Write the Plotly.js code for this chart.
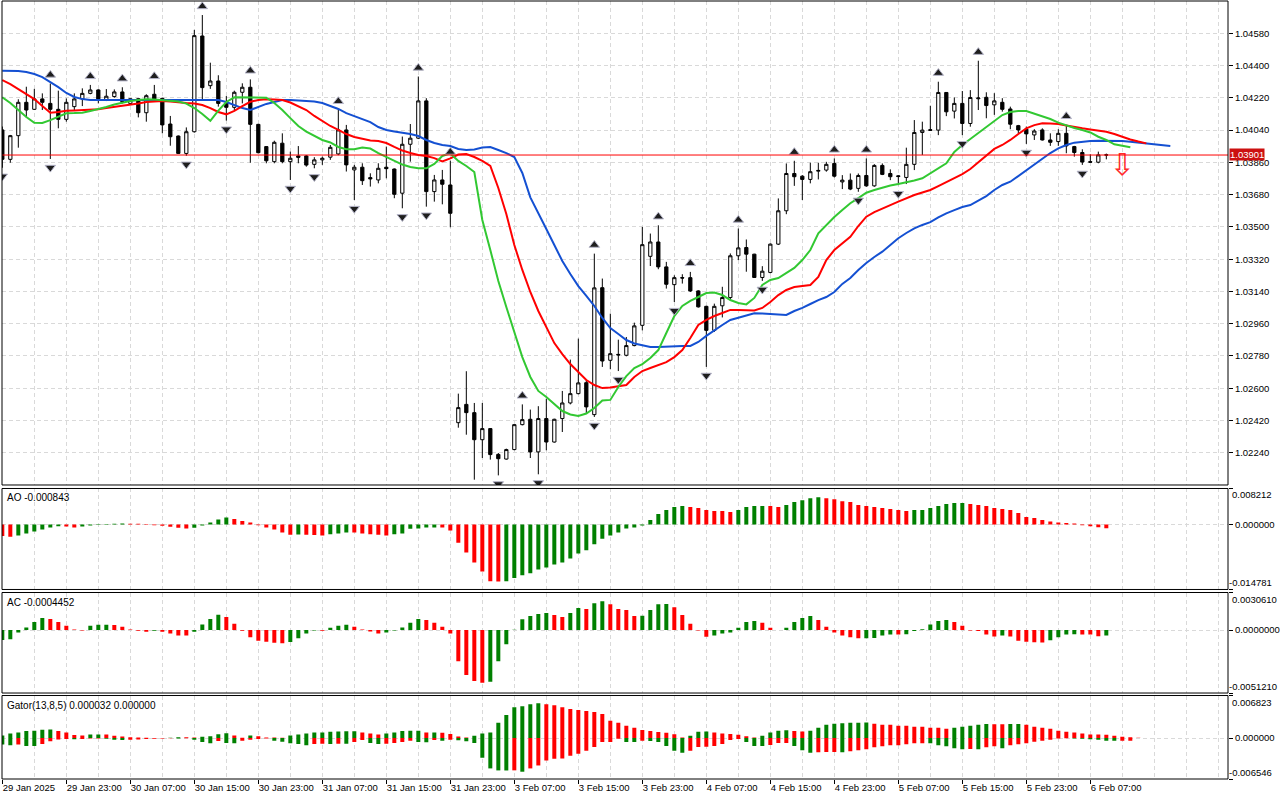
<!DOCTYPE html>
<html><head><meta charset="utf-8">
<script src="https://cdn.plot.ly/plotly-3.0.1.min.js"></script>
<style>html,body{margin:0;padding:0;background:#fff;overflow:hidden}#chart{width:1280px;height:800px}</style>
</head><body><div id="chart"></div>
<script>
// ---------- DATA (EURUSD-like H1, 29 Jan 15:00 .. 6 Feb 09:00) ----------
const barOpen = [1.04041,1.03877,1.04009,1.04195,1.04156,1.04214,1.04189,1.04156,1.04100,1.04171,
1.04214,1.04245,1.04264,1.04208,1.04227,1.04253,1.04189,1.04215,1.04137,1.04240,
1.04217,1.04074,1.04007,1.03910,1.04031,1.04565,1.04288,1.04314,1.04189,1.04167,
1.04251,1.04279,1.04072,1.03948,1.03864,1.03967,1.03864,1.03896,1.03896,1.03849,
1.03874,1.03889,1.03907,1.04041,1.03818,1.03833,1.03775,1.03762,1.03833,1.03823,
1.03688,1.03961,1.03995,1.04203,1.03697,1.03762,1.03734,1.02408,1.02510,1.02464,
1.02313,1.02375,1.02231,1.02205,1.02258,1.02397,1.02427,1.02245,1.02431,1.02300,
1.02431,1.02518,1.02570,1.02631,1.02453,1.03161,1.02756,1.02789,1.02784,1.02838,
1.02951,1.03336,1.03416,1.03277,1.03178,1.03217,1.03217,1.03143,1.03057,1.02923,
1.03060,1.03106,1.03339,1.03385,1.03348,1.03218,1.03246,1.03404,1.03590,1.03798,
1.03783,1.03765,1.03811,1.03817,1.03854,1.03751,1.03761,1.03715,1.03787,1.03729,
1.03843,1.03798,1.03785,1.03776,1.03849,1.04027,1.04038,1.04040,1.04250,1.04146,
1.04189,1.04077,1.04215,1.04223,1.04181,1.04195,1.04158,1.04065,1.04045,1.04013,
1.04041,1.03985,1.03976,1.04022,1.03948,1.03915,1.03864,1.03861,1.03902];
const barHigh = [1.04060,1.04013,1.04212,1.04282,1.04270,1.04245,1.04300,1.04260,1.04217,1.04245,
1.04273,1.04292,1.04268,1.04269,1.04267,1.04279,1.04217,1.04217,1.04240,1.04292,
1.04221,1.04119,1.04010,1.04055,1.04599,1.04682,1.04416,1.04346,1.04230,1.04260,
1.04301,1.04323,1.04075,1.03950,1.03981,1.04022,1.03920,1.03951,1.03901,1.03889,
1.03892,1.03957,1.04153,1.04069,1.03846,1.03855,1.03799,1.03855,1.03948,1.03826,
1.04004,1.04074,1.04339,1.04218,1.03790,1.03818,1.03870,1.02570,1.02695,1.02518,
1.02518,1.02378,1.02239,1.02263,1.02400,1.02510,1.02481,1.02500,1.02542,1.02430,
1.02585,1.02760,1.02877,1.02645,1.03351,1.03212,1.03016,1.02871,1.02886,1.02966,
1.03500,1.03463,1.03509,1.03305,1.03230,1.03236,1.03249,1.03147,1.03060,1.03072,
1.03166,1.03352,1.03491,1.03430,1.03350,1.03281,1.03408,1.03659,1.03854,1.03869,
1.03789,1.03858,1.03858,1.03863,1.03882,1.03789,1.03798,1.03798,1.03882,1.03850,
1.03854,1.03821,1.03789,1.03942,1.04096,1.04087,1.04176,1.04310,1.04252,1.04222,
1.04258,1.04263,1.04427,1.04251,1.04246,1.04218,1.04171,1.04069,1.04060,1.04045,
1.04050,1.04022,1.04045,1.04069,1.03952,1.03933,1.03905,1.03920,1.03909];
const barLow = [1.03830,1.03858,1.03942,1.04111,1.04152,1.04152,1.03879,1.04050,1.04087,1.04152,
1.04174,1.04240,1.04189,1.04202,1.04221,1.04189,1.04180,1.04111,1.04087,1.04208,
1.04022,1.03953,1.03907,1.03897,1.04026,1.04208,1.04270,1.04171,1.04093,1.04152,
1.04189,1.03858,1.03910,1.03855,1.03855,1.03855,1.03762,1.03855,1.03836,1.03827,
1.03846,1.03874,1.03900,1.03809,1.03650,1.03734,1.03725,1.03743,1.03771,1.03660,
1.03604,1.03864,1.03990,1.03613,1.03641,1.03626,1.03498,1.02380,1.02341,1.02090,
1.02211,1.02202,1.02114,1.02202,1.02254,1.02393,1.02211,1.02120,1.02254,1.02297,
1.02356,1.02510,1.02566,1.02462,1.02440,1.02719,1.02706,1.02696,1.02778,1.02834,
1.02923,1.03282,1.03264,1.03156,1.03081,1.03184,1.03137,1.03050,1.02719,1.02914,
1.02995,1.03092,1.03315,1.03250,1.03215,1.03199,1.03241,1.03399,1.03571,1.03729,
1.03650,1.03743,1.03765,1.03808,1.03776,1.03711,1.03705,1.03696,1.03724,1.03724,
1.03789,1.03761,1.03733,1.03739,1.03817,1.03901,1.04036,1.04012,1.04118,1.04105,
1.04012,1.04059,1.04152,1.04106,1.04125,1.04143,1.04045,1.04022,1.03963,1.03985,
1.03982,1.03952,1.03952,1.03911,1.03892,1.03846,1.03859,1.03855,1.03877];
const barClose = [1.03877,1.04009,1.04195,1.04152,1.04214,1.04195,1.04156,1.04100,1.04195,1.04214,
1.04245,1.04264,1.04214,1.04229,1.04253,1.04199,1.04215,1.04137,1.04232,1.04214,
1.04069,1.04003,1.03910,1.04031,1.04567,1.04277,1.04314,1.04189,1.04167,1.04251,
1.04279,1.04072,1.03914,1.03869,1.03972,1.03864,1.03883,1.03888,1.03845,1.03874,
1.03883,1.03944,1.04041,1.03846,1.03833,1.03758,1.03768,1.03827,1.03825,1.03682,
1.03961,1.03995,1.04203,1.03697,1.03762,1.03738,1.03576,1.02492,1.02464,1.02313,
1.02375,1.02230,1.02207,1.02258,1.02397,1.02425,1.02245,1.02431,1.02300,1.02427,
1.02518,1.02570,1.02630,1.02496,1.03160,1.02752,1.02793,1.02786,1.02838,1.02948,
1.03401,1.03416,1.03277,1.03180,1.03217,1.03215,1.03143,1.03054,1.02923,1.03057,
1.03106,1.03339,1.03383,1.03348,1.03218,1.03253,1.03404,1.03590,1.03798,1.03780,
1.03765,1.03808,1.03815,1.03849,1.03783,1.03761,1.03711,1.03787,1.03729,1.03843,
1.03793,1.03780,1.03781,1.03849,1.04027,1.04040,1.04042,1.04250,1.04142,1.04189,
1.04077,1.04222,1.04219,1.04177,1.04203,1.04156,1.04073,1.04041,1.04019,1.04035,
1.03985,1.03972,1.04022,1.03952,1.03915,1.03862,1.03861,1.03902,1.03901];

// Alligator (shifted lines extend past the last bar)
const jaw = [1.04371,1.04371,1.04370,1.04364,1.04353,1.04336,1.04310,1.04280,1.04247,1.04225,
1.04213,1.04208,1.04208,1.04208,1.04206,1.04205,1.04204,1.04205,1.04206,1.04208,
1.04208,1.04208,1.04208,1.04208,1.04208,1.04208,1.04208,1.04208,1.04197,1.04180,
1.04163,1.04152,1.04169,1.04186,1.04197,1.04208,1.04208,1.04205,1.04202,1.04200,
1.04191,1.04174,1.04158,1.04135,1.04119,1.04102,1.04085,1.04057,1.04041,1.04032,
1.04027,1.04018,1.04007,1.03985,1.03968,1.03957,1.03951,1.03935,1.03929,1.03932,
1.03943,1.03946,1.03929,1.03912,1.03890,1.03801,1.03665,1.03572,1.03488,1.03399,
1.03310,1.03237,1.03170,1.03115,1.03059,1.02992,1.02936,1.02903,1.02869,1.02850,
1.02839,1.02830,1.02830,1.02833,1.02836,1.02836,1.02836,1.02858,1.02892,1.02925,
1.02953,1.02981,1.02992,1.03003,1.03018,1.03017,1.03014,1.03009,1.03009,1.03031,
1.03048,1.03070,1.03092,1.03109,1.03137,1.03182,1.03215,1.03260,1.03299,1.03332,
1.03362,1.03399,1.03437,1.03466,1.03492,1.03511,1.03527,1.03553,1.03576,1.03594,
1.03611,1.03622,1.03645,1.03672,1.03706,1.03734,1.03752,1.03784,1.03817,1.03851,
1.03883,1.03912,1.03938,1.03957,1.03970,1.03975,1.03979,1.03980,1.03981,1.03980,
1.03979,1.03975,1.03970,1.03965,1.03960,1.03954,1.03951];
const teeth = [1.04319,1.04297,1.04269,1.04241,1.04213,1.04174,1.04137,1.04141,1.04148,1.04150,
1.04152,1.04154,1.04156,1.04163,1.04169,1.04174,1.04180,1.04188,1.04197,1.04201,
1.04202,1.04200,1.04194,1.04191,1.04189,1.04180,1.04163,1.04141,1.04128,1.04147,
1.04174,1.04198,1.04208,1.04212,1.04211,1.04208,1.04194,1.04174,1.04152,1.04119,
1.04091,1.04063,1.04041,1.04018,1.04002,1.03990,1.03982,1.03979,1.03968,1.03946,
1.03926,1.03912,1.03901,1.03896,1.03884,1.03865,1.03882,1.03904,1.03907,1.03890,
1.03868,1.03840,1.03717,1.03572,1.03399,1.03260,1.03137,1.03031,1.02942,1.02852,
1.02791,1.02735,1.02691,1.02646,1.02618,1.02601,1.02604,1.02613,1.02618,1.02663,
1.02696,1.02713,1.02730,1.02746,1.02774,1.02813,1.02880,1.02953,1.02981,1.03003,
1.03020,1.03037,1.03037,1.03034,1.03034,1.03048,1.03081,1.03120,1.03148,1.03165,
1.03170,1.03176,1.03221,1.03315,1.03371,1.03410,1.03445,1.03505,1.03557,1.03583,
1.03604,1.03622,1.03641,1.03661,1.03678,1.03692,1.03706,1.03728,1.03751,1.03770,
1.03795,1.03823,1.03862,1.03901,1.03935,1.03957,1.03985,1.04018,1.04050,1.04068,
1.04078,1.04077,1.04074,1.04066,1.04056,1.04050,1.04044,1.04038,1.04031,1.04018,
1.04002,1.03988,1.03976,1.03966];
const lips = [1.04223,1.04191,1.04152,1.04113,1.04081,1.04080,1.04096,1.04116,1.04134,1.04135,
1.04137,1.04147,1.04156,1.04169,1.04183,1.04194,1.04202,1.04208,1.04212,1.04211,
1.04208,1.04203,1.04200,1.04188,1.04163,1.04130,1.04092,1.04149,1.04197,1.04223,
1.04223,1.04223,1.04222,1.04221,1.04191,1.04152,1.04107,1.04063,1.04032,1.04007,
1.03985,1.03971,1.03946,1.03933,1.03933,1.03943,1.03937,1.03912,1.03890,1.03868,
1.03848,1.03834,1.03827,1.03827,1.03851,1.03896,1.03910,1.03868,1.03840,1.03806,
1.03539,1.03371,1.03198,1.03053,1.02908,1.02774,1.02663,1.02585,1.02551,1.02512,
1.02473,1.02454,1.02445,1.02459,1.02490,1.02532,1.02535,1.02607,1.02668,1.02713,
1.02735,1.02769,1.02813,1.02908,1.03003,1.03059,1.03087,1.03109,1.03131,1.03134,
1.03120,1.03092,1.03076,1.03068,1.03104,1.03176,1.03204,1.03215,1.03243,1.03271,
1.03315,1.03371,1.03464,1.03511,1.03555,1.03594,1.03632,1.03661,1.03691,1.03706,
1.03720,1.03731,1.03739,1.03747,1.03759,1.03771,1.03799,1.03826,1.03855,1.03918,
1.03957,1.03990,1.04024,1.04054,1.04091,1.04124,1.04141,1.04147,1.04147,1.04133,
1.04116,1.04102,1.04082,1.04065,1.04052,1.04041,1.04027,1.04003,1.03985,1.03961,
1.03951,1.03944];

// Awesome Oscillator
const aoValues = [-0.00263,-0.00278,-0.00248,-0.00203,-0.00158,-0.00113,-0.00068,-0.00040,-0.00045,-0.00068,
-0.00045,-0.00020,-0.00010,0.00010,0.00020,0.00023,0.00020,0.00018,-0.00010,-0.00015,
-0.00030,-0.00050,-0.00070,-0.00090,-0.00070,-0.00020,0.00045,0.00113,0.00158,0.00128,
0.00083,0.00045,-0.00015,-0.00068,-0.00113,-0.00180,-0.00233,-0.00225,-0.00232,-0.00235,
-0.00248,-0.00218,-0.00203,-0.00180,-0.00182,-0.00203,-0.00218,-0.00233,-0.00248,-0.00218,
-0.00203,-0.00098,-0.00090,-0.00068,-0.00066,-0.00068,-0.00135,-0.00413,-0.00638,-0.00864,
-0.01066,-0.01292,-0.01295,-0.01290,-0.01217,-0.01157,-0.01111,-0.01021,-0.00976,-0.00909,
-0.00864,-0.00774,-0.00661,-0.00586,-0.00451,-0.00323,-0.00248,-0.00180,-0.00090,-0.00068,
-0.00023,0.00105,0.00240,0.00330,0.00398,0.00421,0.00398,0.00376,0.00330,0.00308,
0.00306,0.00285,0.00330,0.00398,0.00421,0.00422,0.00420,0.00398,0.00443,0.00511,
0.00556,0.00601,0.00623,0.00601,0.00578,0.00533,0.00511,0.00443,0.00421,0.00398,
0.00376,0.00353,0.00330,0.00308,0.00330,0.00333,0.00376,0.00421,0.00466,0.00488,
0.00490,0.00466,0.00443,0.00421,0.00376,0.00353,0.00330,0.00263,0.00173,0.00150,
0.00105,0.00068,0.00045,0.00038,0.00023,-0.00015,-0.00038,-0.00060,-0.000843];
// Accelerator Oscillator
const acValues = [-0.00080,-0.00075,-0.00019,0.00021,0.00067,0.00099,0.00091,0.00067,0.00035,0.00005,
-0.00003,0.00035,0.00043,0.00044,0.00042,0.00027,0.00005,-0.00005,-0.00013,-0.00005,
-0.00014,-0.00027,-0.00043,-0.00044,-0.00013,0.00045,0.00091,0.00126,0.00107,0.00051,
-0.00005,-0.00059,-0.00086,-0.00094,-0.00102,-0.00107,-0.00096,-0.00067,-0.00027,-0.00003,
-0.00005,0.00019,0.00035,0.00043,0.00027,0.00005,-0.00011,-0.00027,-0.00019,-0.00003,
0.00021,0.00059,0.00091,0.00083,0.00059,0.00027,-0.00027,-0.00254,-0.00366,-0.00414,
-0.00428,-0.00420,-0.00254,-0.00115,0.00002,0.00088,0.00115,0.00131,0.00139,0.00123,
0.00107,0.00139,0.00179,0.00171,0.00219,0.00235,0.00211,0.00171,0.00163,0.00115,
0.00116,0.00163,0.00211,0.00213,0.00187,0.00123,0.00051,-0.00003,-0.00053,-0.00043,
-0.00027,-0.00019,0.00019,0.00067,0.00075,0.00059,0.00019,0.00001,0.00019,0.00067,
0.00099,0.00115,0.00083,0.00027,-0.00019,-0.00043,-0.00059,-0.00067,-0.00066,-0.00064,
-0.00043,-0.00035,-0.00036,-0.00034,-0.00008,0.00008,0.00045,0.00075,0.00083,0.00067,
0.00035,-0.00003,-0.00008,-0.00035,-0.00051,-0.00043,-0.00051,-0.00086,-0.00094,-0.00099,
-0.00100,-0.00083,-0.00059,-0.00035,-0.00034,-0.00035,-0.00036,-0.00050,-0.0004452];
// Gator oscillator: upper |jaw-teeth|, lower |teeth-lips|
const gatorUpper = [0.00042,0.00073,0.00089,0.00115,0.00120,0.00136,0.00138,0.00115,0.00089,0.00052,
0.00042,0.00057,0.00060,0.00057,0.00037,0.00026,0.00013,0.00010,0.00005,0.00003,
0.00001,0.00005,0.00016,0.00015,0.00010,0.00021,0.00031,0.00063,0.00078,0.00042,
0.00005,0.00042,0.00031,0.00010,0.00008,0.00005,0.00042,0.00057,0.00073,0.00089,
0.00091,0.00104,0.00107,0.00110,0.00112,0.00089,0.00073,0.00057,0.00073,0.00089,
0.00115,0.00117,0.00120,0.00089,0.00090,0.00088,0.00068,0.00026,0.00010,0.00037,
0.00073,0.00089,0.00245,0.00371,0.00496,0.00512,0.00543,0.00559,0.00543,0.00527,
0.00496,0.00465,0.00449,0.00433,0.00418,0.00386,0.00277,0.00245,0.00198,0.00165,
0.00130,0.00115,0.00098,0.00087,0.00062,0.00010,0.00037,0.00104,0.00106,0.00089,
0.00073,0.00065,0.00055,0.00031,0.00010,0.00037,0.00089,0.00120,0.00125,0.00115,
0.00108,0.00120,0.00167,0.00214,0.00230,0.00240,0.00245,0.00247,0.00249,0.00230,
0.00214,0.00213,0.00198,0.00197,0.00183,0.00182,0.00167,0.00166,0.00151,0.00167,
0.00183,0.00198,0.00214,0.00225,0.00224,0.00222,0.00226,0.00228,0.00214,0.00183,
0.00167,0.00151,0.00120,0.00104,0.00089,0.00073,0.00058,0.00057,0.00056,0.00037,
0.00021,0.00016,0.00005,0.000032];
const gatorLower = [0.00104,0.00115,0.00104,0.00125,0.00126,0.00094,0.00052,0.00021,0.00016,0.00017,
0.00015,0.00008,0.00005,0.00010,0.00026,0.00029,0.00026,0.00021,0.00016,0.00010,
0.00005,0.00003,0.00005,0.00003,0.00026,0.00063,0.00084,0.00045,0.00078,0.00081,
0.00042,0.00026,0.00016,0.00008,0.00042,0.00057,0.00084,0.00094,0.00115,0.00094,
0.00091,0.00094,0.00089,0.00092,0.00063,0.00031,0.00078,0.00094,0.00091,0.00078,
0.00063,0.00042,0.00063,0.00065,0.00031,0.00042,0.00026,0.00036,0.00052,0.00078,
0.00313,0.00485,0.00517,0.00518,0.00516,0.00538,0.00485,0.00438,0.00360,0.00329,
0.00328,0.00282,0.00250,0.00204,0.00141,0.00063,0.00062,0.00010,0.00063,0.00064,
0.00042,0.00047,0.00063,0.00125,0.00204,0.00235,0.00204,0.00141,0.00140,0.00125,
0.00094,0.00031,0.00016,0.00063,0.00125,0.00126,0.00110,0.00078,0.00077,0.00125,
0.00193,0.00235,0.00225,0.00224,0.00223,0.00226,0.00209,0.00193,0.00178,0.00146,
0.00131,0.00115,0.00114,0.00099,0.00084,0.00083,0.00084,0.00115,0.00130,0.00162,
0.00177,0.00176,0.00178,0.00146,0.00130,0.00162,0.00115,0.00099,0.00084,0.00057,
0.00042,0.00025,0.00008,0.00003,0.00005,0.00009,0.00017,0.00026,0.00042,0.00043,
0.00042,0.00041];

const fractalUpBars = [6,11,15,19,25,31,42,52,56,65,74,82,86,92,99,104,108,117,122,133];
const fractalDownBars = [0,6,23,28,36,39,44,50,53,59,62,67,74,77,84,88,95,107,112,120,128,135];
const sellBars = [140];
const sellPrices = [1.03832];

const timeTickBars = [0,8,16,24,32,40,48,56,64,72,80,88,96,104,112,120,128,136];
const timeTickLabels = ["29 Jan 2025","29 Jan 23:00","30 Jan 07:00","30 Jan 15:00","30 Jan 23:00",
"31 Jan 07:00","31 Jan 15:00","31 Jan 23:00","3 Feb 07:00","3 Feb 15:00","3 Feb 23:00",
"4 Feb 07:00","4 Feb 15:00","4 Feb 23:00","5 Feb 07:00","5 Feb 15:00","5 Feb 23:00","6 Feb 07:00"];
const priceTicks = [1.02240,1.02420,1.02600,1.02780,1.02960,1.03140,1.03320,1.03500,1.03680,1.03860,1.04040,1.04220,1.04400,1.04580];
const aoScale = [-0.014781, 0, 0.008212];
const aoScaleLabels = ["-0.014781","0.000000","0.008212"];
const acScale = [-0.0051210, 0, 0.0030610];
const acScaleLabels = ["-0.0051210","0.0000000","0.0030610"];
const gatorScale = [-0.006546, 0, 0.006823];
const gatorScaleLabels = ["-0.006546","0.000000","0.006823"];
const aoTitle = "AO -0.000843";
const acTitle = "AC -0.0004452";
const gatorTitle = "Gator(13,8,5) 0.000032 0.000000";

// ---------- STYLE ----------
const FONT = "Liberation Sans, Arial, sans-serif";
const GREEN = "#008000", RED = "#ff0000";
const GRID = "#d9d9d9", DASH = "4px,3px";
const idx = n => Array.from({length: n}, (_, i) => i);
function histColors(vals, first) {
  const out = [];
  vals.forEach((v, i) => {
    if (i === 0) out.push(first);
    else if (v > vals[i-1]) out.push(GREEN);
    else if (v < vals[i-1]) out.push(RED);
    else out.push(out[i-1]);
  });
  return out;
}
const N = barClose.length;
const lastClose = barClose[N-1];
const fracOffset = 0.00048;

const D_MAIN = [0.3779, 1.0], D_AO = [0.2436, 0.3734], D_AC = [0.1105, 0.2397], D_G = [0.0, 0.1073];

const traces = [
  {type: 'candlestick', x: idx(N), open: barOpen, high: barHigh, low: barLow, close: barClose,
   xaxis: 'x', yaxis: 'y', hoverinfo: 'skip', showlegend: false, whiskerwidth: 0,
   increasing: {line: {color: '#000', width: 1}, fillcolor: '#ffffff'},
   decreasing: {line: {color: '#000', width: 1}, fillcolor: '#000000'}},
  {type: 'scatter', mode: 'lines', x: idx(jaw.length), y: jaw, xaxis: 'x', yaxis: 'y',
   line: {color: '#1450d2', width: 2}, hoverinfo: 'skip'},
  {type: 'scatter', mode: 'lines', x: idx(teeth.length), y: teeth, xaxis: 'x', yaxis: 'y',
   line: {color: '#ff0000', width: 2}, hoverinfo: 'skip'},
  {type: 'scatter', mode: 'lines', x: idx(lips.length), y: lips, xaxis: 'x', yaxis: 'y',
   line: {color: '#32c832', width: 2}, hoverinfo: 'skip'},
  {type: 'scatter', mode: 'markers', x: fractalUpBars, y: fractalUpBars.map(i => barHigh[i] + fracOffset),
   xaxis: 'x', yaxis: 'y', hoverinfo: 'skip',
   marker: {symbol: 'triangle-up', size: 9, color: '#1e1e1e', line: {color: '#b4b4c8', width: 1}}},
  {type: 'scatter', mode: 'markers', x: fractalDownBars, y: fractalDownBars.map(i => barLow[i] - fracOffset),
   xaxis: 'x', yaxis: 'y', hoverinfo: 'skip',
   marker: {symbol: 'triangle-down', size: 9, color: '#1e1e1e', line: {color: '#b4b4c8', width: 1}}},
  {type: 'scatter', mode: 'text', x: sellBars, y: sellPrices, text: sellBars.map(() => '\u21E9'),
   textposition: 'middle center', xaxis: 'x', yaxis: 'y', hoverinfo: 'skip', cliponaxis: false,
   textfont: {family: 'DejaVu Sans', size: 30, color: '#ff2a2a'}},
  {type: 'bar', x: idx(aoValues.length), y: aoValues, xaxis: 'x', yaxis: 'y2', width: 0.5,
   marker: {color: histColors(aoValues, RED), line: {width: 0}}, hoverinfo: 'skip'},
  {type: 'bar', x: idx(acValues.length), y: acValues, xaxis: 'x', yaxis: 'y3', width: 0.5,
   marker: {color: histColors(acValues, GREEN), line: {width: 0}}, hoverinfo: 'skip'},
  {type: 'bar', x: idx(gatorUpper.length), y: gatorUpper, xaxis: 'x', yaxis: 'y4', width: 0.5,
   marker: {color: histColors(gatorUpper, GREEN), line: {width: 0}}, hoverinfo: 'skip'},
  {type: 'bar', x: idx(gatorLower.length), y: gatorLower.map(v => -v), xaxis: 'x', yaxis: 'y4', width: 0.5,
   marker: {color: histColors(gatorLower, GREEN), line: {width: 0}}, hoverinfo: 'skip'}
];

const tickFont = {family: FONT, size: 9.5, color: '#000'};
function subAxis(domain, scale, labels) {
  return {domain: domain, range: [scale[0], scale[2]], side: 'right', anchor: 'x',
    tickvals: scale, ticktext: ['', labels[1], ''], ticks: 'outside', ticklen: 4, tickcolor: '#000',
    showgrid: true, gridcolor: GRID, griddash: DASH, zeroline: false, showline: false,
    tickfont: tickFont, fixedrange: true};
}
const minorTicks = [];
for (let b = 4; b <= 152; b += 4) { if (timeTickBars.indexOf(b) < 0) minorTicks.push(b); }

const annotations = [];
[[aoTitle, D_AO], [acTitle, D_AC], [gatorTitle, D_G]].forEach(([t, d]) => {
  annotations.push({text: t, xref: 'paper', yref: 'paper', x: 0, y: d[1], xanchor: 'left', yanchor: 'top',
    xshift: 3, yshift: -2, showarrow: false, font: {family: FONT, size: 10, color: '#000'}});
});
[['y2', aoScale, aoScaleLabels], ['y3', acScale, acScaleLabels], ['y4', gatorScale, gatorScaleLabels]].forEach(([ax, s, l]) => {
  annotations.push({text: l[2], xref: 'paper', yref: ax, x: 1, y: s[2], xanchor: 'left', yanchor: 'top',
    xshift: 3, showarrow: false, font: tickFont, borderpad: 0});
  annotations.push({text: l[0], xref: 'paper', yref: ax, x: 1, y: s[0], xanchor: 'left', yanchor: 'bottom',
    xshift: 0, showarrow: false, font: tickFont, borderpad: 0});
});
annotations.push({text: lastClose.toFixed(5), xref: 'paper', yref: 'y', x: 1, y: lastClose,
  xanchor: 'left', yanchor: 'middle', xshift: 1, yshift: 1, showarrow: false, bgcolor: '#cc1010',
  font: {family: FONT, size: 9.5, color: '#ffffff'}, borderpad: 0});

const shapes = [
  {type: 'line', xref: 'paper', yref: 'y', x0: 0, x1: 1, y0: lastClose, y1: lastClose,
   line: {color: '#ff0000', width: 1}, layer: 'above'}
];
[D_MAIN, D_AO, D_AC, D_G].forEach(d => shapes.push({type: 'rect', xref: 'paper', yref: 'paper',
  x0: 0, x1: 1, y0: d[0], y1: d[1], line: {color: '#000', width: 1}, layer: 'above'}));

const layout = {
  width: 1280, height: 800, margin: {l: 2, r: 52, t: 1, b: 21},
  paper_bgcolor: '#fff', plot_bgcolor: '#fff', showlegend: false, hovermode: false,
  barmode: 'overlay', boxgap: 0.42,
  xaxis: {range: [-0.04, 153.21], anchor: 'y4', tickvals: timeTickBars, ticktext: timeTickLabels,
    ticklabelposition: 'outside right', tickangle: 0, ticks: 'outside', ticklen: 4, tickcolor: '#000',
    showgrid: true, gridcolor: GRID, griddash: DASH, zeroline: false, showline: false,
    tickfont: tickFont, rangeslider: {visible: false}, fixedrange: true,
    minor: {tickvals: minorTicks, showgrid: true, gridcolor: GRID, griddash: DASH, ticks: ''}},
  yaxis: {domain: D_MAIN, range: [1.020604, 1.047602], side: 'right', anchor: 'x',
    tickvals: priceTicks, ticktext: priceTicks.map(v => v.toFixed(5)), ticks: 'outside', ticklen: 4,
    tickcolor: '#000', showgrid: true, gridcolor: GRID, griddash: DASH, zeroline: false, showline: false,
    tickfont: tickFont, fixedrange: true},
  yaxis2: subAxis(D_AO, aoScale, aoScaleLabels),
  yaxis3: subAxis(D_AC, acScale, acScaleLabels),
  yaxis4: subAxis(D_G, gatorScale, gatorScaleLabels),
  annotations: annotations, shapes: shapes
};
Plotly.newPlot('chart', traces, layout, {displayModeBar: false, staticPlot: true});
</script></body></html>
